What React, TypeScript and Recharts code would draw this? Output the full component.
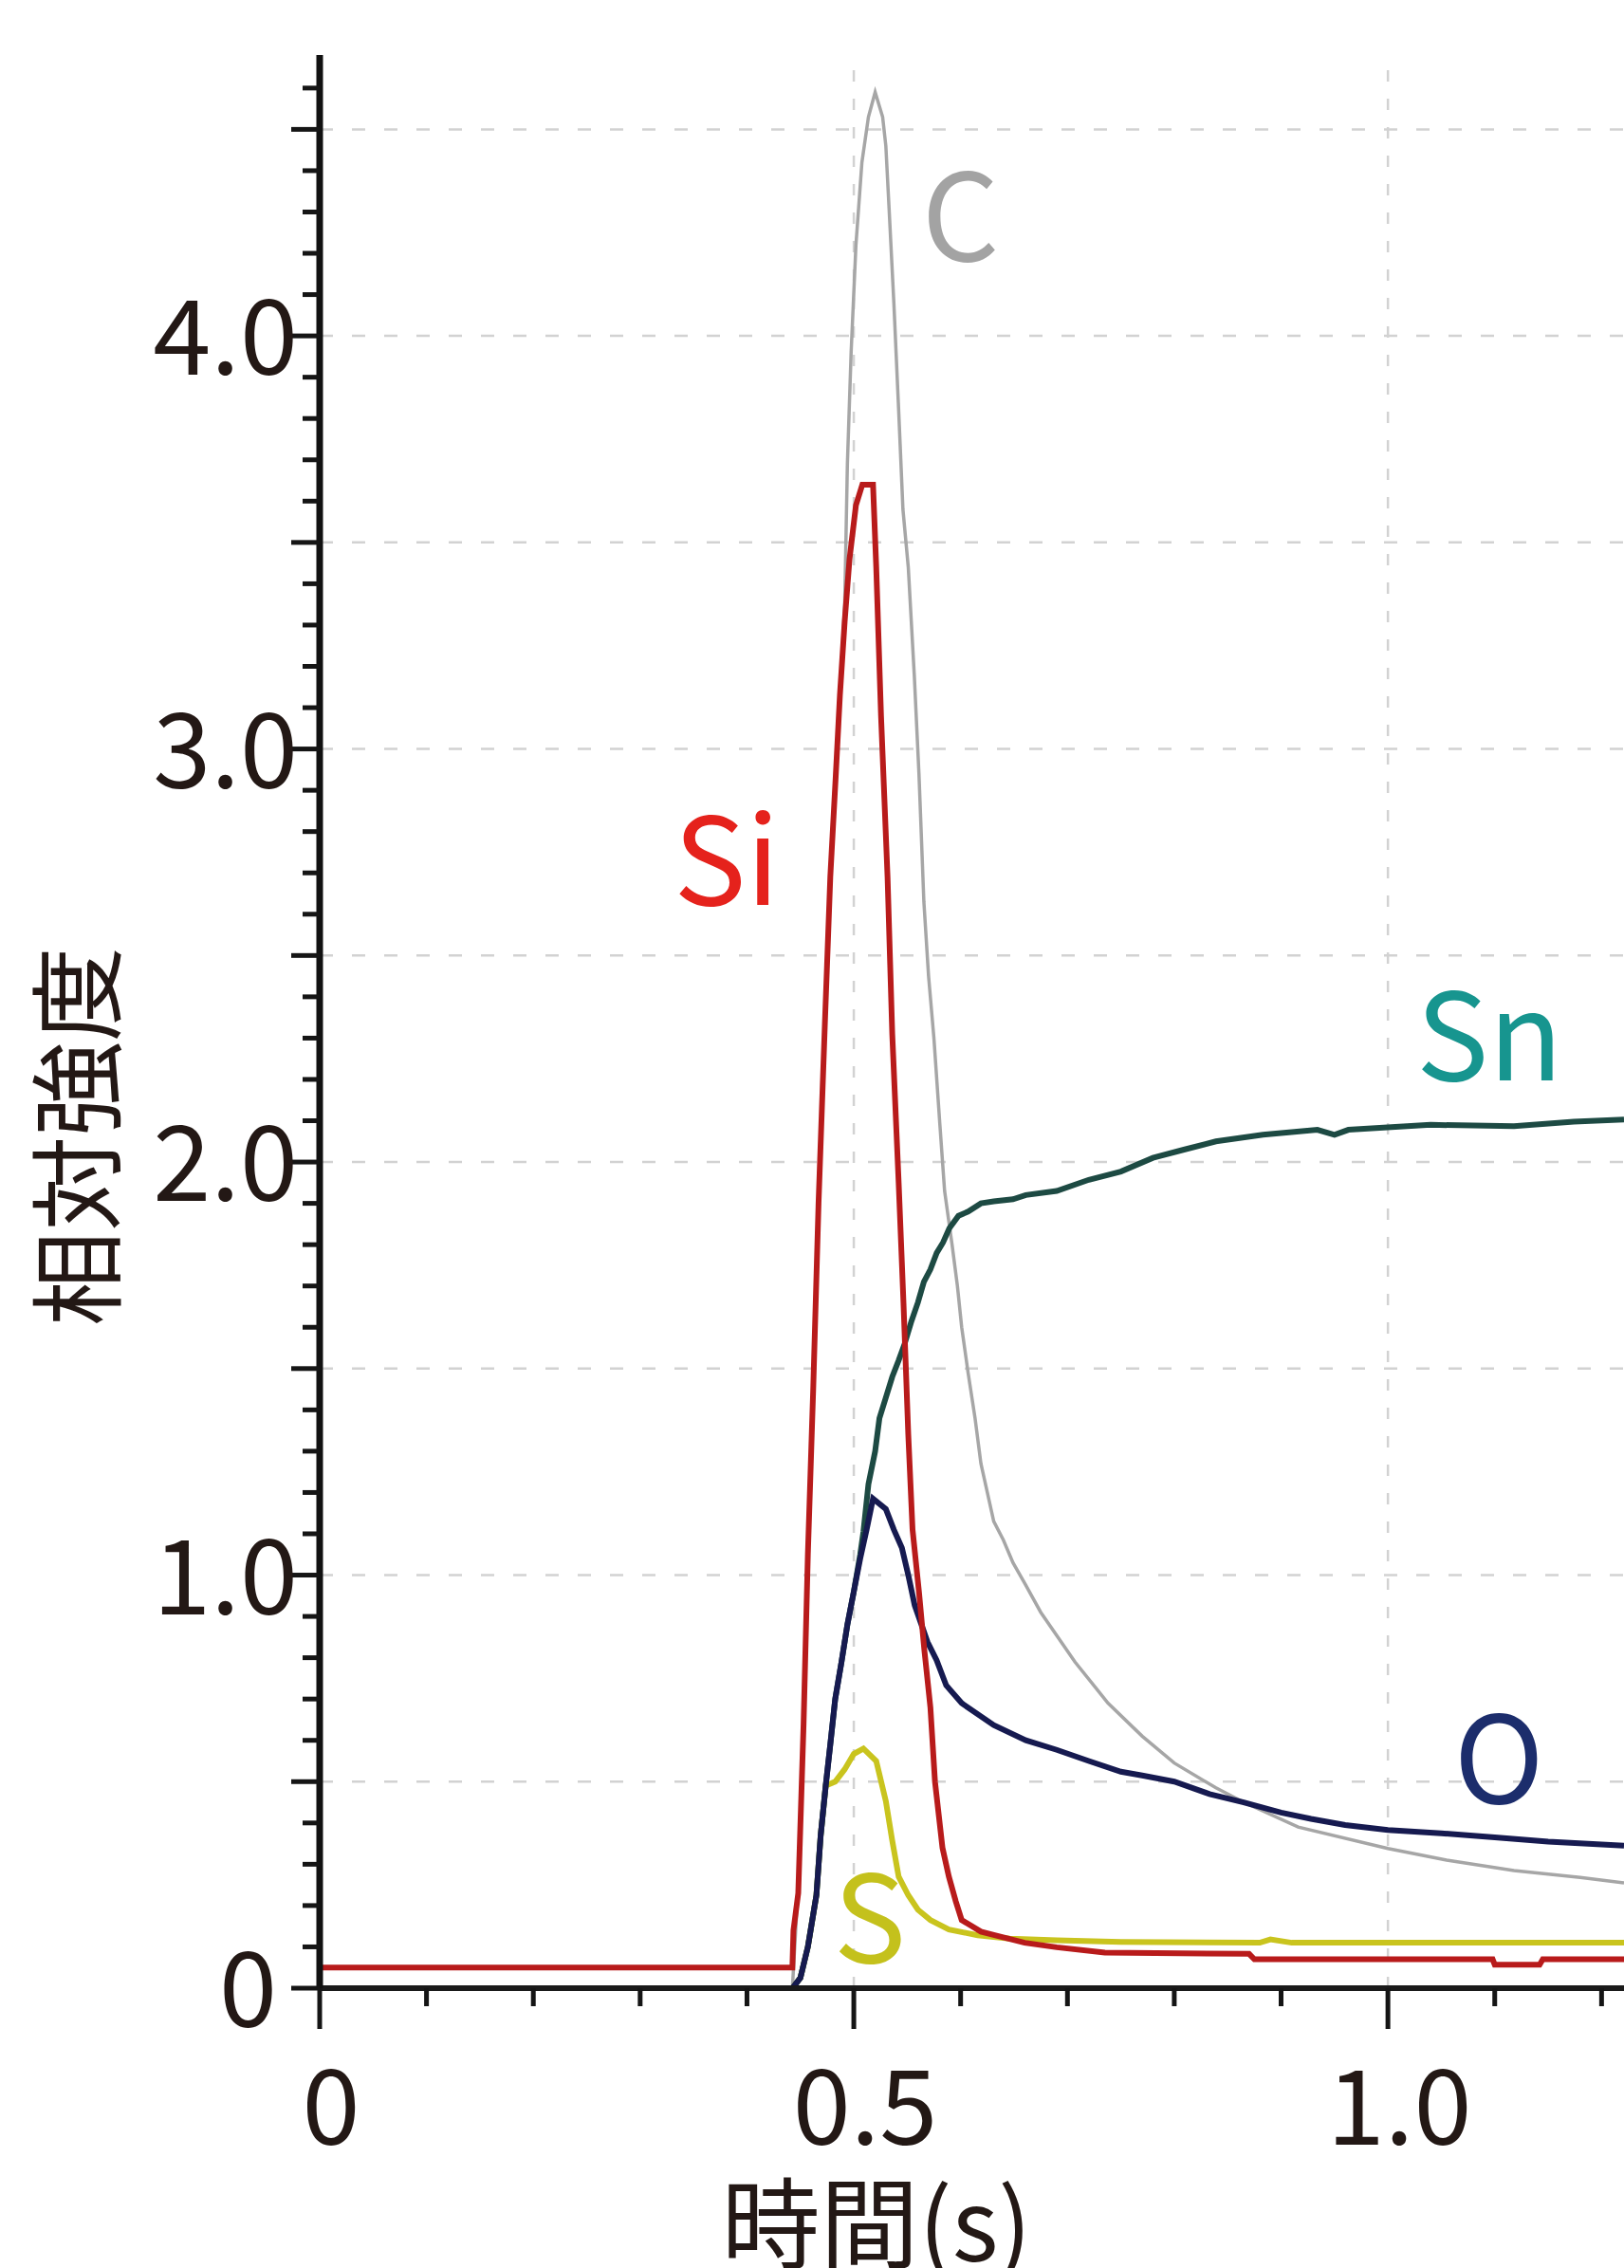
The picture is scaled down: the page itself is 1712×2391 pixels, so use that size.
import React from 'react';
import { LineChart, Line, XAxis, YAxis, ReferenceLine, ReferenceDot } from 'recharts';

const FONT = "'Noto Sans CJK JP', 'Noto Sans', sans-serif";

// ---- data (time in s, relative intensity) ----
const cPoints = [
  { t: 0, v: 0 }, { t: 0.4425, v: 0 }, { t: 0.448, v: 0.25 }, { t: 0.453, v: 0.65 }, { t: 0.457, v: 1.05 },
  { t: 0.462, v: 1.45 }, { t: 0.467, v: 1.9 }, { t: 0.473, v: 2.34 }, { t: 0.478, v: 2.69 }, { t: 0.483, v: 2.93 },
  { t: 0.487, v: 3.13 }, { t: 0.4915, v: 3.35 }, { t: 0.494, v: 3.69 }, { t: 0.4975, v: 3.96 }, { t: 0.502, v: 4.22 },
  { t: 0.5076, v: 4.42 }, { t: 0.5137, v: 4.53 }, { t: 0.52, v: 4.59 }, { t: 0.527, v: 4.53 }, { t: 0.53, v: 4.46 },
  { t: 0.533, v: 4.31 }, { t: 0.5375, v: 4.08 }, { t: 0.542, v: 3.82 }, { t: 0.546, v: 3.58 }, { t: 0.551, v: 3.44 },
  { t: 0.5566, v: 3.18 }, { t: 0.561, v: 2.94 }, { t: 0.5656, v: 2.63 }, { t: 0.57, v: 2.45 }, { t: 0.575, v: 2.3 },
  { t: 0.5806, v: 2.09 }, { t: 0.585, v: 1.93 }, { t: 0.592, v: 1.8 }, { t: 0.597, v: 1.7 }, { t: 0.601, v: 1.6 },
  { t: 0.607, v: 1.49 }, { t: 0.6135, v: 1.38 }, { t: 0.619, v: 1.27 }, { t: 0.625, v: 1.2 }, { t: 0.631, v: 1.13 },
  { t: 0.64, v: 1.085 }, { t: 0.649, v: 1.03 }, { t: 0.66, v: 0.98 }, { t: 0.675, v: 0.91 }, { t: 0.707, v: 0.79 },
  { t: 0.738, v: 0.69 }, { t: 0.77, v: 0.61 }, { t: 0.8, v: 0.545 }, { t: 0.839, v: 0.485 }, { t: 0.865, v: 0.45 },
  { t: 0.916, v: 0.39 }, { t: 1.0, v: 0.338 }, { t: 1.055, v: 0.31 }, { t: 1.118, v: 0.285 }, { t: 1.18, v: 0.268 },
  { t: 1.221, v: 0.255 },
];

const siPoints = [
  { t: 0, v: 0.05 }, { t: 0.4425, v: 0.05 }, { t: 0.4435, v: 0.14 }, { t: 0.448, v: 0.23 }, { t: 0.453, v: 0.64 },
  { t: 0.457, v: 1.05 }, { t: 0.462, v: 1.45 }, { t: 0.467, v: 1.9 }, { t: 0.473, v: 2.34 }, { t: 0.478, v: 2.69 },
  { t: 0.483, v: 2.93 }, { t: 0.487, v: 3.13 }, { t: 0.4915, v: 3.31 }, { t: 0.496, v: 3.46 }, { t: 0.502, v: 3.59 },
  { t: 0.508, v: 3.64 }, { t: 0.518, v: 3.64 }, { t: 0.521, v: 3.44 }, { t: 0.5255, v: 3.08 }, { t: 0.5316, v: 2.69 },
  { t: 0.536, v: 2.31 }, { t: 0.542, v: 1.95 }, { t: 0.5465, v: 1.66 }, { t: 0.551, v: 1.34 }, { t: 0.555, v: 1.11 },
  { t: 0.561, v: 0.96 }, { t: 0.566, v: 0.82 }, { t: 0.5717, v: 0.68 }, { t: 0.576, v: 0.5 }, { t: 0.583, v: 0.34 },
  { t: 0.589, v: 0.27 }, { t: 0.5955, v: 0.21 }, { t: 0.601, v: 0.165 }, { t: 0.619, v: 0.137 }, { t: 0.631, v: 0.129 },
  { t: 0.66, v: 0.11 }, { t: 0.69, v: 0.099 }, { t: 0.735, v: 0.086 }, { t: 0.87, v: 0.083 }, { t: 0.875, v: 0.07 },
  { t: 1.098, v: 0.07 }, { t: 1.1, v: 0.057 }, { t: 1.142, v: 0.057 }, { t: 1.145, v: 0.07 }, { t: 1.221, v: 0.07 },
];

const snPoints = [
  { t: 0, v: 0 }, { t: 0.4425, v: 0 }, { t: 0.45, v: 0.025 }, { t: 0.457, v: 0.1 }, { t: 0.465, v: 0.225 },
  { t: 0.469, v: 0.37 }, { t: 0.4737, v: 0.49 }, { t: 0.478, v: 0.59 }, { t: 0.4826, v: 0.7 }, { t: 0.4885, v: 0.79 },
  { t: 0.494, v: 0.88 }, { t: 0.5, v: 0.96 }, { t: 0.506, v: 1.05 }, { t: 0.509, v: 1.105 }, { t: 0.5137, v: 1.22 },
  { t: 0.52, v: 1.3 }, { t: 0.524, v: 1.38 }, { t: 0.53, v: 1.43 }, { t: 0.536, v: 1.48 }, { t: 0.542, v: 1.52 },
  { t: 0.5476, v: 1.56 }, { t: 0.554, v: 1.615 }, { t: 0.56, v: 1.66 }, { t: 0.5656, v: 1.71 }, { t: 0.5717, v: 1.74 },
  { t: 0.5776, v: 1.78 }, { t: 0.5835, v: 1.805 }, { t: 0.5895, v: 1.84 }, { t: 0.598, v: 1.87 }, { t: 0.607, v: 1.88 },
  { t: 0.619, v: 1.9 }, { t: 0.631, v: 1.905 }, { t: 0.649, v: 1.91 }, { t: 0.661, v: 1.92 }, { t: 0.69, v: 1.93 },
  { t: 0.72, v: 1.957 }, { t: 0.75, v: 1.977 }, { t: 0.78, v: 2.01 }, { t: 0.809, v: 2.03 }, { t: 0.839, v: 2.05 },
  { t: 0.883, v: 2.066 }, { t: 0.934, v: 2.078 }, { t: 0.95, v: 2.066 }, { t: 0.963, v: 2.078 }, { t: 1.04, v: 2.09 },
  { t: 1.118, v: 2.087 }, { t: 1.174, v: 2.098 }, { t: 1.221, v: 2.103 },
];

const oPoints = [
  { t: 0, v: 0 }, { t: 0.4425, v: 0 }, { t: 0.45, v: 0.025 }, { t: 0.457, v: 0.1 }, { t: 0.465, v: 0.225 },
  { t: 0.469, v: 0.37 }, { t: 0.4737, v: 0.49 }, { t: 0.478, v: 0.59 }, { t: 0.4826, v: 0.7 }, { t: 0.4885, v: 0.79 },
  { t: 0.494, v: 0.88 }, { t: 0.5, v: 0.96 }, { t: 0.506, v: 1.04 }, { t: 0.512, v: 1.11 }, { t: 0.518, v: 1.185 },
  { t: 0.53, v: 1.16 }, { t: 0.5375, v: 1.11 }, { t: 0.545, v: 1.066 }, { t: 0.551, v: 1.0 }, { t: 0.557, v: 0.927 },
  { t: 0.569, v: 0.838 }, { t: 0.5775, v: 0.794 }, { t: 0.5865, v: 0.733 }, { t: 0.601, v: 0.69 }, { t: 0.631, v: 0.637 },
  { t: 0.661, v: 0.6 }, { t: 0.69, v: 0.577 }, { t: 0.72, v: 0.55 }, { t: 0.75, v: 0.524 }, { t: 0.77, v: 0.515 },
  { t: 0.8, v: 0.5 }, { t: 0.833, v: 0.47 }, { t: 0.865, v: 0.45 }, { t: 0.9, v: 0.425 }, { t: 0.928, v: 0.41 },
  { t: 0.96, v: 0.395 }, { t: 1.0, v: 0.383 }, { t: 1.05, v: 0.375 }, { t: 1.1, v: 0.365 }, { t: 1.15, v: 0.355 },
  { t: 1.221, v: 0.345 },
];

const sPoints = [
  { t: 0.4425, v: 0 }, { t: 0.45, v: 0.025 }, { t: 0.457, v: 0.1 }, { t: 0.465, v: 0.225 }, { t: 0.469, v: 0.37 },
  { t: 0.4737, v: 0.49 }, { t: 0.4826, v: 0.5 }, { t: 0.4915, v: 0.53 }, { t: 0.5, v: 0.567 }, { t: 0.509, v: 0.58 },
  { t: 0.521, v: 0.55 }, { t: 0.53, v: 0.453 }, { t: 0.536, v: 0.357 }, { t: 0.542, v: 0.27 }, { t: 0.551, v: 0.225 },
  { t: 0.56, v: 0.19 }, { t: 0.5717, v: 0.165 }, { t: 0.589, v: 0.142 }, { t: 0.616, v: 0.128 }, { t: 0.646, v: 0.12 },
  { t: 0.69, v: 0.116 }, { t: 0.75, v: 0.112 }, { t: 0.88, v: 0.11 }, { t: 0.89, v: 0.118 }, { t: 0.91, v: 0.11 },
  { t: 1.221, v: 0.11 },
];

// ---- axes ----
const xTicks = [0, 0.1, 0.2, 0.3, 0.4, 0.5, 0.6, 0.7, 0.8, 0.9, 1.0, 1.1, 1.2];
const xMajor = [0, 0.5, 1.0];
const xLabelTexts = ['0', '0.5', '1.0'];
const yTicks = [
  0, 0.1, 0.2, 0.3, 0.4, 0.5, 0.6, 0.7, 0.8, 0.9, 1.0, 1.1, 1.2, 1.3, 1.4, 1.5, 1.6, 1.7, 1.8, 1.9,
  2.0, 2.1, 2.2, 2.3, 2.4, 2.5, 2.6, 2.7, 2.8, 2.9, 3.0, 3.1, 3.2, 3.3, 3.4, 3.5, 3.6, 3.7, 3.8, 3.9,
  4.0, 4.1, 4.2, 4.3, 4.4, 4.5, 4.6,
];
const yMajor = [0, 0.5, 1.0, 1.5, 2.0, 2.5, 3.0, 3.5, 4.0, 4.5];
const yLabelValues = [0, 1, 2, 3, 4];
const yLabelTexts = ['0', '1.0', '2.0', '3.0', '4.0'];
const gridY = [0.5, 1.0, 1.5, 2.0, 2.5, 3.0, 3.5, 4.0, 4.5];
const gridX = [0.5, 1.0];

// series labels
const seriesLabels = [
  { name: 'C', t: 0.6, v: 4.31, color: '#a3a3a3' },
  { name: 'Si', t: 0.381, v: 2.75, color: '#e5221c' },
  { name: 'Sn', t: 1.095, v: 2.325, color: '#17958f' },
  { name: 'O', t: 1.104, v: 0.575, color: '#1c2d6c' },
  { name: 'S', t: 0.515, v: 0.19, color: '#c4c11c' },
];

const W = 1712;
const H = 2391;
const PLOT_LEFT = 337;
const PLOT_TOP = 58;
const PLOT_BOTTOM = 2096;
const X_AXIS_H = H - PLOT_BOTTOM;

const isIn = (arr: number[], v: number) => arr.some((a) => Math.abs(a - v) < 1e-6);

const YTick = (props: any) => {
  const { y, payload } = props;
  const v = payload.value as number;
  const len = isIn(yMajor, v) ? 30 : 18;
  const idx = yLabelValues.findIndex((a) => Math.abs(a - v) < 1e-6);
  return (
    <g>
      <line x1={PLOT_LEFT - len} x2={PLOT_LEFT} y1={y} y2={y} stroke="#151515" strokeWidth={5} />
      {idx >= 0 && (
        <text
          x={v === 0 ? 292 : 314}
          y={y + 41}
          textAnchor="end"
          fontSize={110}
          fontFamily={FONT}
          fill="#231815"
        >
          {yLabelTexts[idx]}
        </text>
      )}
    </g>
  );
};

const XTick = (props: any) => {
  const { x, payload } = props;
  const v = payload.value as number;
  const major = isIn(xMajor, v);
  const len = major ? 43 : 19;
  const idx = xMajor.findIndex((a) => Math.abs(a - v) < 1e-6);
  return (
    <g>
      <line x1={x} x2={x} y1={PLOT_BOTTOM} y2={PLOT_BOTTOM + len} stroke="#151515" strokeWidth={5} />
      {idx >= 0 && (
        <text x={x + 12} y={2261} textAnchor="middle" fontSize={110} fontFamily={FONT} fill="#231815">
          {xLabelTexts[idx]}
        </text>
      )}
    </g>
  );
};

const XTitle = () => (
  <text x={924} y={2384} textAnchor="middle" fontSize={104} fontFamily={FONT} fill="#231815">
    時間(s)
  </text>
);

const YTitle = () => (
  <text
    x={75}
    y={1198}
    transform="rotate(-90 75 1198)"
    textAnchor="middle"
    dominantBaseline="central"
    fontSize={100}
    fontFamily={FONT}
    fill="#231815"
  >
    相対強度
  </text>
);

const makeSeriesLabel = (name: string, color: string) => (p: any) => {
  const vb = p.viewBox || {};
  const cx = (vb.x || 0) + (vb.width || 0) / 2;
  const cy = (vb.y || 0) + (vb.height || 0) / 2;
  return (
    <text
      x={cx}
      y={cy}
      textAnchor="middle"
      dominantBaseline="central"
      fontSize={128}
      fontFamily={FONT}
      fill={color}
    >
      {name}
    </text>
  );
};

export default function App() {
  return (
    <div style={{ position: 'absolute', left: 0, top: 0, width: W, height: H, background: '#ffffff' }}>
      <LineChart width={W} height={H} margin={{ top: PLOT_TOP, right: 0, bottom: 0, left: 0 }}>
        {gridY.map((g) => (
          <ReferenceLine key={'gy' + g} y={g} stroke="#d2d2d2" strokeWidth={2.5} strokeDasharray="14 20" />
        ))}
        {gridX.map((g) => (
          <ReferenceLine key={'gx' + g} x={g} stroke="#d2d2d2" strokeWidth={2.5} strokeDasharray="12 18" />
        ))}
        <XAxis
          type="number"
          dataKey="t"
          domain={[0, 1.221]}
          ticks={xTicks}
          interval={0}
          height={X_AXIS_H}
          tickLine={false}
          tick={<XTick />}
          axisLine={{ stroke: '#1a1a1a', strokeWidth: 6 }}
          allowDataOverflow
          label={{ content: XTitle }}
        />
        <YAxis
          type="number"
          domain={[0, 4.68]}
          ticks={yTicks}
          interval={0}
          width={PLOT_LEFT}
          tickLine={false}
          tick={<YTick />}
          axisLine={{ stroke: '#111111', strokeWidth: 7 }}
          allowDataOverflow
          label={{ content: YTitle }}
        />
        <Line data={cPoints} dataKey="v" type="linear" stroke="#a6a6a6" strokeWidth={3.5} dot={false} isAnimationActive={false} />
        <Line data={sPoints} dataKey="v" type="linear" stroke="#c9c41e" strokeWidth={6} dot={false} isAnimationActive={false} />
        <Line data={snPoints} dataKey="v" type="linear" stroke="#1d4a43" strokeWidth={6} dot={false} isAnimationActive={false} />
        <Line data={oPoints} dataKey="v" type="linear" stroke="#161a50" strokeWidth={6} dot={false} isAnimationActive={false} />
        <Line data={siPoints} dataKey="v" type="linear" stroke="#b81b1b" strokeWidth={6} dot={false} isAnimationActive={false} />
        {seriesLabels.map((s) => (
          <ReferenceDot
            key={s.name}
            x={s.t}
            y={s.v}
            r={0}
            fill="none"
            stroke="none"
            label={{ content: makeSeriesLabel(s.name, s.color) }}
          />
        ))}
      </LineChart>
    </div>
  );
}
